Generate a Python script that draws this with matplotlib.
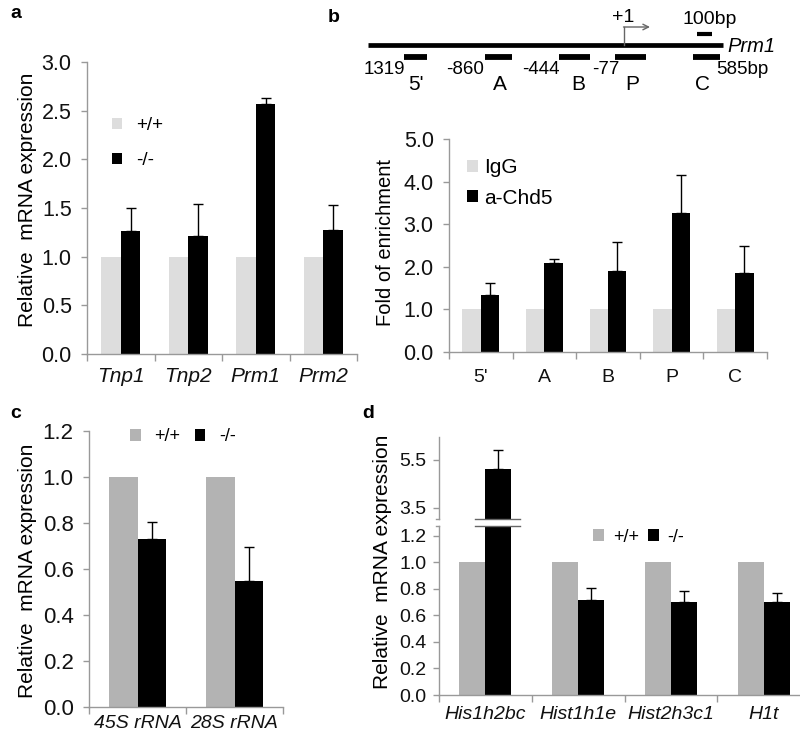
import numpy as np
import matplotlib
matplotlib.use("Agg")
import matplotlib.pyplot as plt
from matplotlib.patches import Patch

plt.rcParams['font.family'] = ['Liberation Sans', 'DejaVu Sans']

# ---------------- data ----------------
a_genes = ["Tnp1", "Tnp2", "Prm1", "Prm2"]
a_wt = [1.0, 1.0, 1.0, 1.0]
a_ko = [1.26, 1.21, 2.57, 1.27]
a_ko_err = [0.24, 0.33, 0.06, 0.26]

b_regions = ["5'", "A", "B", "P", "C"]
b_igg = [1.0, 1.0, 1.0, 1.0, 1.0]
b_chd5 = [1.34, 2.10, 1.91, 3.27, 1.86]
b_chd5_err = [0.29, 0.08, 0.68, 0.88, 0.64]
b_pos_labels = ["1319", "-860", "-444", "-77"]

c_genes = ["45S rRNA", "28S rRNA"]
c_wt = [1.0, 1.0]
c_ko = [0.73, 0.55]
c_ko_err = [0.073, 0.145]

d_genes = ["His1h2bc", "Hist1h1e", "Hist2h3c1", "H1t"]
d_wt = [1.0, 1.0, 1.0, 1.0]
d_ko = [5.11, 0.72, 0.70, 0.70]
d_ko_err = [0.81, 0.085, 0.088, 0.068]

LIGHT = '#dddddd'
MID = '#b3b3b3'
SPINE = '#999999'

W, H = 800, 746
fig = plt.figure(figsize=(8, 7.46), dpi=100)


def rect(l, t, r, b):
    return [l / W, 1 - b / H, (r - l) / W, (b - t) / H]


def style(ax, n, labels, xfs, italic, xpad, yfs, ypad):
    for s in ['top', 'right']:
        ax.spines[s].set_visible(False)
    for s in ['left', 'bottom']:
        ax.spines[s].set_color(SPINE)
        ax.spines[s].set_linewidth(1)
    ax.set_xlim(-0.5, n - 0.5)
    ax.set_xticks(range(n))
    ax.set_xticklabels(labels, fontsize=xfs, style='italic' if italic else 'normal')
    ax.set_xticks(np.arange(-0.5, n), minor=True)
    ax.tick_params(axis='x', which='major', length=0, pad=xpad, labelcolor='#111111')
    ax.tick_params(axis='x', which='minor', length=5, color=SPINE, width=1)
    ax.tick_params(axis='y', length=4, color=SPINE, width=1, labelsize=yfs, pad=ypad,
                   labelcolor='#111111')
    ax.yaxis.set_major_formatter(matplotlib.ticker.FormatStrFormatter('%.1f'))


def bars(ax, wt, ko, err, wcol, width):
    x = np.arange(len(wt))
    ax.bar(x - width / 2, wt, width, color=wcol, zorder=2)
    ax.bar(x + width / 2, ko, width, color='black', zorder=2)
    ax.errorbar(x + width / 2, ko, yerr=[np.zeros(len(err)), err], fmt='none',
                ecolor='black', elinewidth=1, capsize=3.5, capthick=1, zorder=3)


# ---------------- panel a ----------------
axa = fig.add_axes(rect(87, 62, 357, 354))
bars(axa, a_wt, a_ko, a_ko_err, LIGHT, 0.29)
axa.set_ylim(0, 3.0)
axa.set_yticks(np.arange(0, 3.01, 0.5))
style(axa, 4, a_genes, 15, True, 9, 15.5, 7)
axa.legend(handles=[Patch(facecolor=LIGHT, label='+/+'), Patch(facecolor='black', label='-/-')],
           loc='upper left', bbox_to_anchor=(0.093, 0.81), frameon=False, fontsize=13.5,
           handlelength=0.55, handleheight=0.55, handletextpad=0.75, labelspacing=0.95,
           borderpad=0, borderaxespad=0)
fig.text(37 / W, 1 - 200 / H, 'Relative  mRNA expression', rotation=90, ha='right',
         va='center', fontsize=15)
fig.text(10 / W, 1 - 14 / H, 'a', fontsize=14, fontweight='bold', ha='left', va='center')

# ---------------- panel b schematic ----------------
axs = fig.add_axes([0, 0, 1, 1], zorder=-1)
axs.set_xlim(0, W)
axs.set_ylim(H, 0)
axs.axis('off')
axs.plot([368, 723], [45, 45], color='black', lw=3.4, solid_capstyle='butt')
reg_x = [(404, 427), (485, 512), (559, 590), (615, 646), (693, 720)]
for (x0, x1) in reg_x:
    axs.plot([x0, x1], [57, 57], color='black', lw=4.2, solid_capstyle='butt')
axs.plot([697, 712], [34, 34], color='black', lw=3.0, solid_capstyle='butt')
axs.plot([624, 624], [45, 27], color='#666666', lw=1)
axs.annotate('', xy=(650, 27), xytext=(623.5, 27),
             arrowprops=dict(arrowstyle='->', color='#666666', lw=1, shrinkA=0, shrinkB=0,
                             mutation_scale=10))
axs.text(623, 17, '+1', ha='center', va='center', fontsize=14)
axs.text(710, 19, '100bp', ha='center', va='center', fontsize=14)
axs.text(727, 46, 'Prm1', ha='left', va='center', fontsize=14.5, style='italic')
num_x = [384, 465, 541, 606]
for lbl, xx in zip(b_pos_labels, num_x):
    axs.text(xx, 70, lbl, ha='center', va='center', fontsize=13.5)
axs.text(742, 70, '585bp', ha='center', va='center', fontsize=13.5)
name_x = [416, 500, 578, 632, 702]
for lbl, xx in zip(b_regions, name_x):
    axs.text(xx, 84, lbl, ha='center', va='center', fontsize=15)
fig.text(328 / W, 1 - 18 / H, 'b', fontsize=14, fontweight='bold', ha='left', va='center')

# ---------------- panel b chart ----------------
axb = fig.add_axes(rect(449, 139, 767, 352))
bars(axb, b_igg, b_chd5, b_chd5_err, LIGHT, 0.29)
axb.set_ylim(0, 5.0)
axb.set_yticks(np.arange(0, 5.01, 1.0))
style(axb, 5, b_regions, 14, False, 12, 15.5, 7)
axb.legend(handles=[Patch(facecolor=LIGHT, label='IgG'), Patch(facecolor='black', label='a-Chd5')],
           loc='upper left', bbox_to_anchor=(0.057, 0.91), frameon=False, fontsize=15,
           handlelength=0.5, handleheight=0.5, handletextpad=0.3, labelspacing=0.55,
           borderpad=0, borderaxespad=0)
fig.text(395 / W, 1 - 243 / H, 'Fold of enrichment', rotation=90, ha='right',
         va='center', fontsize=14.5)

# ---------------- panel c ----------------
axc = fig.add_axes(rect(89, 431, 283, 707))
bars(axc, c_wt, c_ko, c_ko_err, MID, 0.29)
axc.set_ylim(0, 1.2)
axc.set_yticks(np.arange(0, 1.21, 0.2))
style(axc, 2, c_genes, 14, True, 6, 16, 7)
axc.legend(handles=[Patch(facecolor=MID, label='+/+'), Patch(facecolor='black', label='-/-')],
           loc='upper left', bbox_to_anchor=(0.21, 1.01), frameon=False, fontsize=13, ncol=2,
           handlelength=0.6, handleheight=0.6, handletextpad=0.75, columnspacing=0.8,
           borderpad=0, borderaxespad=0)
fig.text(37 / W, 1 - 571 / H, 'Relative  mRNA expression', rotation=90, ha='right',
         va='center', fontsize=15)
fig.text(10 / W, 1 - 414 / H, 'c', fontsize=14, fontweight='bold', ha='left', va='center')

# ---------------- panel d ----------------
axd = fig.add_axes(rect(439, 526, 810, 695))
axu = fig.add_axes(rect(439, 437, 810, 519))
wd = 0.28
bars(axd, d_wt, d_ko, d_ko_err, MID, wd)
axd.set_ylim(0, 1.275)
axd.set_yticks(np.arange(0, 1.21, 0.2))
style(axd, 4, d_genes, 14, True, 8, 14, 5)
axd.spines['top'].set_visible(False)

bars(axu, d_wt, d_ko, d_ko_err, MID, wd)
axu.set_ylim(3.02, 6.46)
axu.set_yticks([3.5, 5.5])
style(axu, 4, ['', '', '', ''], 14, True, 8, 14, 5)
axu.spines['bottom'].set_visible(False)
axu.set_xticks([])
axu.set_xticks([], minor=True)

# break marks
for ax_, yy in [(axd, 1.0), (axu, 0.0)]:
    ax_.plot([-0.11, 0.37], [yy, yy], transform=ax_.get_xaxis_transform(),
             color='#666666', lw=1, clip_on=False, zorder=4)
    ax_.plot([-0.53, -0.5], [yy, yy], transform=ax_.get_xaxis_transform(),
             color=SPINE, lw=1, clip_on=False)

axd.legend(handles=[Patch(facecolor=MID, label='+/+'), Patch(facecolor='black', label='-/-')],
           loc='upper left', bbox_to_anchor=(0.415, 0.985), frameon=False, fontsize=13, ncol=2,
           handlelength=0.6, handleheight=0.6, handletextpad=0.5, columnspacing=0.5,
           borderpad=0, borderaxespad=0)
fig.text(392 / W, 1 - 562 / H, 'Relative  mRNA expression', rotation=90, ha='right',
         va='center', fontsize=15)
fig.text(362 / W, 1 - 414 / H, 'd', fontsize=14, fontweight='bold', ha='left', va='center')

fig.savefig('out.png', dpi=100)
